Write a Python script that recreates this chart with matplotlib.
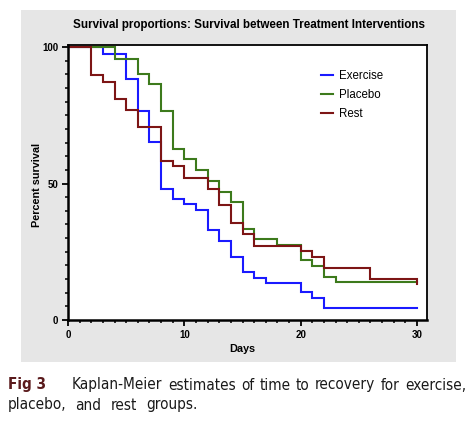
import matplotlib
matplotlib.use("Agg")
import matplotlib.pyplot as plt
from matplotlib.patches import Rectangle
from matplotlib.ticker import MultipleLocator
from matplotlib import font_manager
from matplotlib.font_manager import FontProperties

# ---- data ----
exercise_days = [0, 3, 5, 6, 7, 8, 9, 10, 11, 12, 13, 14, 15, 16, 17, 20, 21, 22, 30]
exercise_surv = [100, 97.6, 88.1, 76.7, 65.2, 48.0, 44.2, 42.5, 40.3, 33.0, 29.0, 23.2,
                 17.5, 15.5, 13.7, 10.1, 7.9, 4.3, 4.3]

placebo_days = [0, 4, 6, 7, 8, 9, 10, 11, 12, 13, 14, 15, 16, 18, 20, 21, 22, 23, 30]
placebo_surv = [100, 95.6, 90.0, 86.3, 76.4, 62.8, 59.0, 55.0, 51.0, 47.0, 43.2, 33.3,
                29.6, 27.6, 22.0, 19.8, 15.9, 14.0, 14.0]

rest_days = [0, 2, 3, 4, 5, 6, 8, 9, 10, 12, 13, 14, 15, 16, 20, 21, 22, 26, 30]
rest_surv = [100, 89.6, 87.2, 81.0, 76.8, 70.6, 58.2, 56.3, 52.1, 47.9, 42.0, 35.6,
             31.4, 27.1, 25.3, 23.2, 18.9, 14.9, 13.1]

series_names = ["Exercise", "Placebo", "Rest"]
series_colors = ["#1a1aff", "#3d7a1c", "#7d1515"]

x_ticks = [0, 10, 20, 30]
y_ticks = [0, 50, 100]

title = "Survival proportions: Survival between Treatment Interventions"
caption_bold = "Fig 3"
caption_line1 = "Kaplan-Meier estimates of time to recovery for exercise,"
caption_line2 = "placebo, and rest groups."

# caption font: a condensed face if one is installed, else Lato
cap_size = 11
cond = [f for f in font_manager.fontManager.ttflist
        if f.name == "DejaVu Sans" and "Condensed" in f.fname and "Oblique" not in f.fname]
cond_reg = [f for f in cond if "Bold" not in f.fname]
cond_bold = [f for f in cond if "Bold" in f.fname]
if cond_reg and cond_bold:
    cap_fp = FontProperties(fname=cond_reg[0].fname, size=cap_size)
    cap_fp_b = FontProperties(fname=cond_bold[0].fname, size=cap_size)
else:
    cap_fp = FontProperties(family="Lato", size=cap_size + 0.5)
    cap_fp_b = FontProperties(family="Lato", weight="bold", size=cap_size + 0.5)

# ---- figure ----
W, H = 474, 426
fig = plt.figure(figsize=(W / 100, H / 100), dpi=100)
fig.patch.set_facecolor("white")

# grey panel
panel = Rectangle((21 / W, 1 - 362 / H), 435 / W, 352 / H,
                  transform=fig.transFigure, facecolor="#e6e6e6",
                  edgecolor="none", zorder=-10)
fig.add_artist(panel)

ax = fig.add_axes([68 / W, 1 - 320 / H, (427 - 68) / W, (320 - 45) / H])
ax.set_zorder(5)
ax.set_facecolor("white")

for d, s, name, c in zip([exercise_days, placebo_days, rest_days],
                         [exercise_surv, placebo_surv, rest_surv],
                         series_names, series_colors):
    ax.step(d, s, where="post", color=c, lw=1.5, label=name, solid_joinstyle="miter")

ax.set_xlim(0, 30 * (427 - 68) / (417 - 68))
ax.set_ylim(0, 100 * (320 - 45) / (320 - 47))

ax.set_xticks(x_ticks)
ax.set_yticks(y_ticks)
ax.xaxis.set_minor_locator(MultipleLocator(1))
ax.yaxis.set_minor_locator(MultipleLocator(5))
ax.tick_params(which="major", length=4, width=1.3, direction="out", pad=3,
               labelsize=7)
ax.tick_params(which="minor", length=2.5, width=1.1, direction="out")
for lab in ax.get_xticklabels() + ax.get_yticklabels():
    lab.set_fontweight("bold")
    lab.set_family("Liberation Sans")

for side in ["left", "bottom"]:
    ax.spines[side].set_linewidth(1.8)
for side in ["top", "right"]:
    ax.spines[side].set_linewidth(1.3)

fig.text(249 / W, 1 - 25 / H, title, ha="center", va="center",
         fontsize=8.4, fontweight="bold", family="Liberation Sans")
fig.text(37 / W, 1 - 185 / H, "Percent survival", ha="center", va="center",
         rotation=90, fontsize=7.8, fontweight="bold", family="Liberation Sans")
fig.text(242 / W, 1 - 349 / H, "Days", ha="center", va="center",
         fontsize=7.8, fontweight="bold", family="Liberation Sans")

leg = ax.legend(loc="upper left",
                bbox_to_anchor=((321 - 68) / (427 - 68), 1 - (70 - 45) / (320 - 45)),
                frameon=False, handlelength=1.0, handletextpad=0.55,
                labelspacing=0.62, borderpad=0, borderaxespad=0,
                prop={"family": "Liberation Sans", "size": 8.3})

# caption (line 1 justified, line 2 with a moderate word spacing)
fig.text(8 / W, 1 - 385 / H, caption_bold, ha="left", va="center",
         color="#5a1a1c", fontproperties=cap_fp_b)
fig.canvas.draw()
r = fig.canvas.get_renderer()


def place_words(words, x0, x1, y, max_gap=None):
    tmp = [fig.text(0, 0, w, fontproperties=cap_fp) for w in words]
    widths = [t.get_window_extent(r).width for t in tmp]
    for t in tmp:
        t.remove()
    gap = (x1 - x0 - sum(widths)) / (len(words) - 1)
    if max_gap is not None:
        gap = min(gap, max_gap)
    x = x0
    for w, wd in zip(words, widths):
        fig.text(x / W, 1 - y / H, w, ha="left", va="center", color="#1a1a1a",
                 fontproperties=cap_fp)
        x += wd + gap


place_words(caption_line1.split(), 72, 466, 385)
place_words(caption_line2.split(), 8, 208, 405, max_gap=9)

fig.savefig("out.png", dpi=100, facecolor="white")
